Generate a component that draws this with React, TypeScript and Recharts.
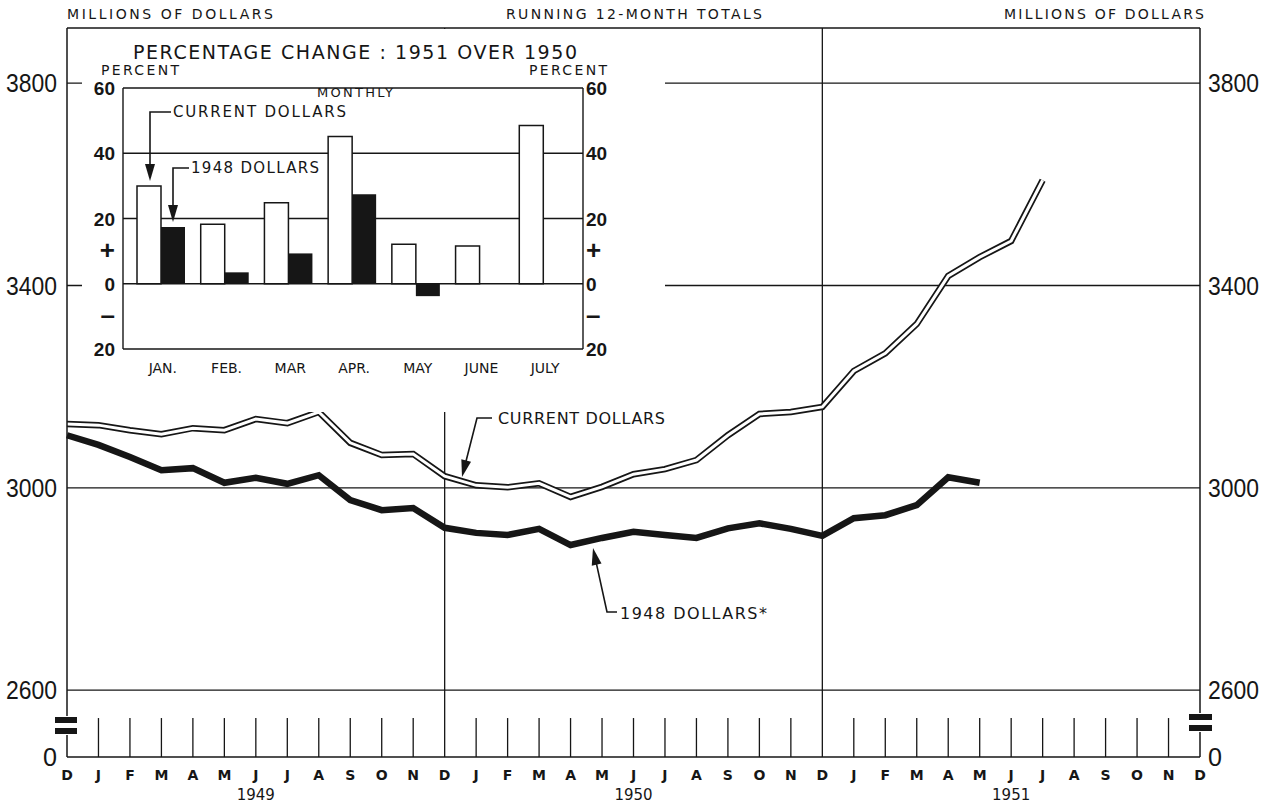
import React from "react";
import { LineChart, Line, XAxis, YAxis, CartesianGrid, ReferenceLine, ComposedChart, Bar } from "recharts";

// running 12-month totals, millions of dollars, Dec 1948 .. Dec 1951
const MONTHS = [
  "D", "J", "F", "M", "A", "M", "J", "J", "A", "S", "O", "N",
  "D", "J", "F", "M", "A", "M", "J", "J", "A", "S", "O", "N",
  "D", "J", "F", "M", "A", "M", "J", "J", "A", "S", "O", "N", "D",
];
const YEARS = ["1949", "1950", "1951"];
const CURRENT = [
  3126, 3124, 3114, 3106, 3118, 3114, 3136, 3128, 3150, 3089, 3065, 3067,
  3023, 3005, 3001, 3009, 2982, 3002, 3027, 3037, 3055, 3104, 3146, 3150,
  3160, 3231, 3266, 3324, 3419, 3456, 3488, 3608,
];
const DOLLARS_1948 = [
  3104, 3085, 3061, 3035, 3039, 3010, 3020, 3008, 3025, 2976, 2956, 2960,
  2921, 2911, 2907, 2919, 2887, 2901, 2913, 2907, 2901, 2920, 2930, 2919,
  2905, 2940, 2946, 2966, 3021, 3010,
];
const MONEY_TICKS = [2600, 3000, 3400, 3800];
const AXIS_FLOOR = 2468; // drawn below the break, labelled 0
const AXIS_TOP = 3909;
const MONTH_MARK_TOP = 2545;

// inset: percentage change 1951 over 1950
const INSET_MONTHS = ["JAN.", "FEB.", "MAR", "APR.", "MAY", "JUNE", "JULY"];
const INSET_CURRENT = [30, 18.2, 24.8, 45.1, 12.1, 11.6, 48.5];
const INSET_1948: (number | null)[] = [17.4, 3.5, 9.3, 27.4, -3.8, null, null];
const INSET_TICKS = [60, 40, 20, 10, 0, -10, -20];

const INK = "#161616";
const LETTER = "'DejaVu Sans', sans-serif";

const mainData = MONTHS.map((m, i) => ({
  i,
  current: i < CURRENT.length ? CURRENT[i] : undefined,
  constant: i < DOLLARS_1948.length ? DOLLARS_1948[i] : undefined,
}));

const insetData = INSET_MONTHS.map((m, i) => ({
  month: m,
  current: INSET_CURRENT[i],
  constant: INSET_1948[i],
}));

function MoneyTick(props: any) {
  const { x, y, payload, textAnchor } = props;
  const label = payload.value === AXIS_FLOOR ? "0" : String(payload.value);
  return (
    <text
      x={x}
      y={y + 9}
      textAnchor={textAnchor}
      fontFamily="'Liberation Sans', Arial, sans-serif"
      fontSize={26}
      textLength={label.length === 1 ? 14 : 51}
      lengthAdjust="spacingAndGlyphs"
      fill={INK}
    >
      {label}
    </text>
  );
}

function MonthTick(props: any) {
  const { x, y, payload } = props;
  const i = payload.value as number;
  return (
    <g>
      <text x={x} y={y + 23} textAnchor="middle" fontFamily={LETTER} fontWeight="bold" fontSize={14} fill={INK}>
        {MONTHS[i]}
      </text>
      {i % 12 === 6 && (
        <text x={x} y={y + 43} textAnchor="middle" fontFamily={LETTER} fontSize={15} fill={INK}>
          {YEARS[(i - 6) / 12]}
        </text>
      )}
    </g>
  );
}

function PctTick(props: any) {
  const { x, y, payload, textAnchor } = props;
  const v = payload.value as number;
  const sign = v === 10 ? "+" : v === -10 ? "–" : null;
  return (
    <text
      x={x}
      y={y + (sign ? 8 : 7)}
      textAnchor={textAnchor}
      fontFamily="'Liberation Sans', Arial, sans-serif"
      fontWeight="bold"
      fontSize={sign ? 26 : 19}
      fill={INK}
    >
      {sign ?? String(Math.abs(v))}
    </text>
  );
}

function InsetMonthTick(props: any) {
  const { x, y, payload } = props;
  return (
    <text x={x + 2} y={y + 24} textAnchor="middle" fontFamily={LETTER} fontSize={14} fill={INK}>
      {payload.value}
    </text>
  );
}

function Lettering({ x, y, w, size, children }: { x: number; y: number; w: number; size: number; children: string }) {
  return (
    <text x={x} y={y} fontFamily={LETTER} fontSize={size} textLength={w} lengthAdjust="spacing" fill={INK}>
      {children}
    </text>
  );
}

function Leader({ pts }: { pts: [number, number][] }) {
  const [px, py] = pts[pts.length - 2];
  const [tx, ty] = pts[pts.length - 1];
  const len = Math.hypot(tx - px, ty - py);
  const ux = (tx - px) / len;
  const uy = (ty - py) / len;
  const hl = 17;
  const hw = 5;
  const bx = tx - ux * hl;
  const by = ty - uy * hl;
  const line = pts.slice(0, -1).concat([[bx + ux * 2, by + uy * 2]]);
  return (
    <g>
      <polyline points={line.map((p) => p.join(",")).join(" ")} fill="none" stroke={INK} strokeWidth={1.6} />
      <polygon
        points={`${tx},${ty} ${bx - uy * hw},${by + ux * hw} ${bx + uy * hw},${by - ux * hw}`}
        fill={INK}
      />
    </g>
  );
}

export default function App() {
  return (
    <div style={{ position: "absolute", left: 0, top: 0, width: 1276, height: 803, background: "#fff" }}>
      <LineChart width={1276} height={803} data={mainData} margin={{ top: 28, right: 0, bottom: 0, left: 0 }}>
        <CartesianGrid
          horizontalValues={[...MONEY_TICKS, AXIS_TOP]}
          verticalValues={[12, 24]}
          stroke={INK}
          strokeWidth={1.3}
          strokeOpacity={1}
        />
        <XAxis
          dataKey="i"
          type="number"
          domain={[0, 36]}
          ticks={MONTHS.map((_, i) => i)}
          interval={0}
          height={46}
          tickSize={0}
          tickMargin={0}
          tickLine={false}
          axisLine={{ stroke: INK, strokeWidth: 1.5 }}
          tick={<MonthTick />}
        />
        <YAxis
          domain={[AXIS_FLOOR, AXIS_TOP]}
          ticks={[AXIS_FLOOR, ...MONEY_TICKS]}
          interval={0}
          width={67}
          tickSize={0}
          tickMargin={10}
          tickLine={false}
          axisLine={{ stroke: INK, strokeWidth: 1.5 }}
          tick={<MoneyTick />}
        />
        <YAxis
          yAxisId="r"
          orientation="right"
          domain={[AXIS_FLOOR, AXIS_TOP]}
          ticks={[AXIS_FLOOR, ...MONEY_TICKS]}
          interval={0}
          width={76}
          tickSize={0}
          tickMargin={8}
          tickLine={false}
          axisLine={{ stroke: INK, strokeWidth: 1.5 }}
          tick={<MoneyTick />}
        />
        {MONTHS.map((_, i) =>
          i > 0 && i < 36 && i % 12 !== 0 ? (
            <ReferenceLine
              key={"m" + i}
              segment={[
                { x: i, y: AXIS_FLOOR },
                { x: i, y: MONTH_MARK_TOP },
              ]}
              stroke={INK}
              strokeWidth={1.3}
            />
          ) : null
        )}
        <Line type="linear" dataKey="current" stroke={INK} strokeWidth={6.5} dot={false} isAnimationActive={false} />
        <Line
          type="linear"
          yAxisId="r"
          dataKey="current"
          name="current-inner"
          stroke="#fff"
          strokeWidth={3}
          dot={false}
          isAnimationActive={false}
        />
        <Line type="linear" dataKey="constant" stroke={INK} strokeWidth={6.5} dot={false} isAnimationActive={false} />
      </LineChart>

      <div style={{ position: "absolute", left: 82, top: 29, width: 583, height: 383, background: "#fff" }}>
        <ComposedChart
          width={583}
          height={383}
          data={insetData}
          margin={{ top: 59, right: 42, bottom: 0, left: 0 }}
          barGap={0}
          barSize={24}
        >
          <CartesianGrid horizontalValues={[60, 40, 20, 0, -20]} vertical={false} stroke={INK} strokeWidth={1.3} strokeOpacity={1} />
          <XAxis
            dataKey="month"
            height={63}
            padding={{ left: 6, right: 8 }}
            interval={0}
            tickSize={0}
            tickMargin={0}
            tickLine={false}
            axisLine={false}
            tick={<InsetMonthTick />}
          />
          <YAxis
            domain={[-20, 60]}
            ticks={INSET_TICKS}
            interval={0}
            width={41}
            tickSize={0}
            tickMargin={8}
            tickLine={false}
            axisLine={{ stroke: INK, strokeWidth: 1.4 }}
            tick={<PctTick />}
          />
          <YAxis
            yAxisId="r"
            orientation="right"
            domain={[-20, 60]}
            ticks={INSET_TICKS}
            interval={0}
            width={40}
            tickSize={0}
            tickMargin={3}
            tickLine={false}
            axisLine={{ stroke: INK, strokeWidth: 1.4 }}
            tick={<PctTick />}
          />
          <Bar dataKey="current" fill="#fff" stroke={INK} strokeWidth={1.5} isAnimationActive={false} />
          <Bar dataKey="constant" fill={INK} isAnimationActive={false} />
          {/* ties the right-hand percent scale to the data so its labels are drawn */}
          <Line yAxisId="r" dataKey="current" stroke="none" dot={false} activeDot={false} isAnimationActive={false} />
        </ComposedChart>
      </div>

      <svg width={1276} height={803} style={{ position: "absolute", left: 0, top: 0, pointerEvents: "none" }}>
        <Lettering x={67} y={19} w={206} size={14}>MILLIONS OF DOLLARS</Lettering>
        <Lettering x={506} y={19} w={256} size={14}>RUNNING 12-MONTH TOTALS</Lettering>
        <Lettering x={1004} y={19} w={200} size={14}>MILLIONS OF DOLLARS</Lettering>

        <Lettering x={133} y={59} w={444} size={19}>PERCENTAGE CHANGE : 1951 OVER 1950</Lettering>
        <Lettering x={101} y={75} w={78} size={14}>PERCENT</Lettering>
        <Lettering x={529} y={75} w={78} size={14}>PERCENT</Lettering>
        <Lettering x={317} y={97} w={76} size={13}>MONTHLY</Lettering>
        <Lettering x={173} y={117} w={173} size={15}>CURRENT DOLLARS</Lettering>
        <Lettering x={191} y={173} w={128} size={15}>1948 DOLLARS</Lettering>
        <Leader pts={[[171, 112], [150, 112], [150, 181]]} />
        <Leader pts={[[189, 168], [173, 168], [173, 222]]} />

        <Lettering x={498} y={424} w={167} size={16}>CURRENT DOLLARS</Lettering>
        <Lettering x={620} y={619} w={147} size={16}>1948 DOLLARS*</Lettering>
        <Leader pts={[[492, 418], [477, 418], [462, 477]]} />
        <Leader pts={[[617, 612], [607, 612], [593, 548]]} />

        {/* scale break marks */}
        <rect x={62} y={716} width={9} height={19} fill="#fff" />
        <rect x={55} y={717} width={22} height={6} fill={INK} />
        <rect x={55} y={728} width={22} height={6} fill={INK} />
        <rect x={1195} y={713} width={10} height={19} fill="#fff" />
        <rect x={1189} y={714} width={23} height={6} fill={INK} />
        <rect x={1189} y={725} width={23} height={6} fill={INK} />
      </svg>
    </div>
  );
}
